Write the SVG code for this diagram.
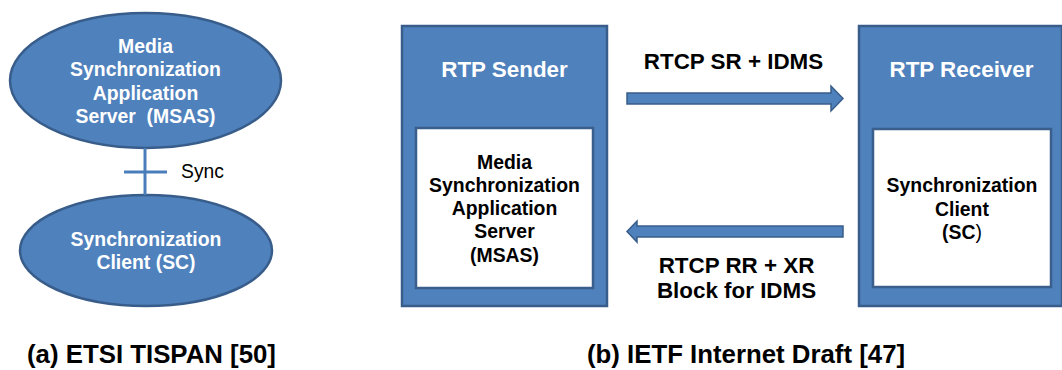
<svg xmlns="http://www.w3.org/2000/svg" width="1062" height="370" viewBox="0 0 1062 370">
  <style>
    .shape { fill: #4F81BD; stroke: #385D8A; stroke-width: 2.5; }
    .inner { fill: #FFFFFF; stroke: #3A5F8C; stroke-width: 2.5; }
    .arrow { fill: #4F81BD; stroke: #385D8A; stroke-width: 1.5; stroke-linejoin: miter; }
    .link { stroke: #4A7EBB; stroke-width: 3; fill: none; }
    text { font-family: "Liberation Sans", Arial, sans-serif; text-anchor: middle; }
    .w { fill: #FFFFFF; font-weight: bold; font-size: 19.4px; }
    .b { fill: #000000; font-weight: bold; font-size: 19.4px; }
    .title { fill: #FFFFFF; font-weight: bold; font-size: 22.4px; }
    .lbl { fill: #000000; font-weight: bold; font-size: 22.4px; }
    .cap { fill: #000000; font-weight: bold; font-size: 25.8px; }
  </style>

  <!-- (a) ETSI TISPAN architecture -->
  <g id="msas-ellipse">
    <ellipse class="shape" cx="145.5" cy="80.5" rx="135.5" ry="67.5" stroke-width="2"/>
    <text class="w" x="145.5" y="52.7">Media</text>
    <text class="w" x="145.5" y="76">Synchronization</text>
    <text class="w" x="145.5" y="99.5">Application</text>
    <text class="w" x="145.5" y="123.3" xml:space="preserve">Server  (MSAS)</text>
  </g>

  <g id="sc-ellipse">
    <ellipse class="shape" cx="146" cy="250.5" rx="126" ry="55.5" stroke-width="2"/>
    <text class="w" x="146" y="245.7">Synchronization</text>
    <text class="w" x="146" y="269.3">Client (SC)</text>
  </g>

  <!-- (b) IETF architecture -->
  <g id="rtp-sender">
    <rect class="shape" x="402" y="26" width="205" height="280"/>
    <text class="title" x="504.5" y="77">RTP Sender</text>
    <rect class="inner" x="416" y="128" width="177" height="160"/>
    <text class="b" x="504.5" y="169">Media</text>
    <text class="b" x="504.5" y="191.7">Synchronization</text>
    <text class="b" x="504.5" y="214.5">Application</text>
    <text class="b" x="504.5" y="238">Server</text>
    <text class="b" x="504.5" y="261.5">(MSAS)</text>
  </g>

  <g id="rtp-receiver">
    <rect class="shape" x="859" y="26" width="203" height="280"/>
    <text class="title" x="961.5" y="77">RTP Receiver</text>
    <rect class="inner" x="873" y="129" width="178" height="158"/>
    <text class="b" x="962" y="191.7">Synchronization</text>
    <text class="b" x="962" y="215.7">Client</text>
    <text class="b" x="962" y="239">(SC<tspan font-weight="normal">)</tspan></text>
  </g>

  <!-- Connectors -->
  <g id="connectors">
    <g id="sync-link">
      <line class="link" x1="145" y1="148" x2="145" y2="195"/>
      <line class="link" x1="124" y1="172" x2="167" y2="172"/>
      <text x="202.5" y="177.5" font-size="19.3px" fill="#000000">Sync</text>
    </g>
    <g id="sr-arrow">
      <polygon class="arrow" points="627,93 831,93 831,86 843,98.5 831,111 831,104 627,104"/>
      <text class="lbl" x="733.5" y="69.3">RTCP SR + IDMS</text>
    </g>
    <g id="rr-arrow">
      <polygon class="arrow" points="843,226 637,226 637,221 627,231.5 637,242 637,237 843,237"/>
      <text class="lbl" x="736.5" y="273">RTCP RR + XR</text>
      <text class="lbl" x="736.5" y="298">Block for IDMS</text>
    </g>
  </g>

  <!-- Captions -->
  <text class="cap" x="151.5" y="362.5">(a) ETSI TISPAN [50]</text>
  <text class="cap" x="746" y="362.5">(b) IETF Internet Draft [47]</text>
</svg>
